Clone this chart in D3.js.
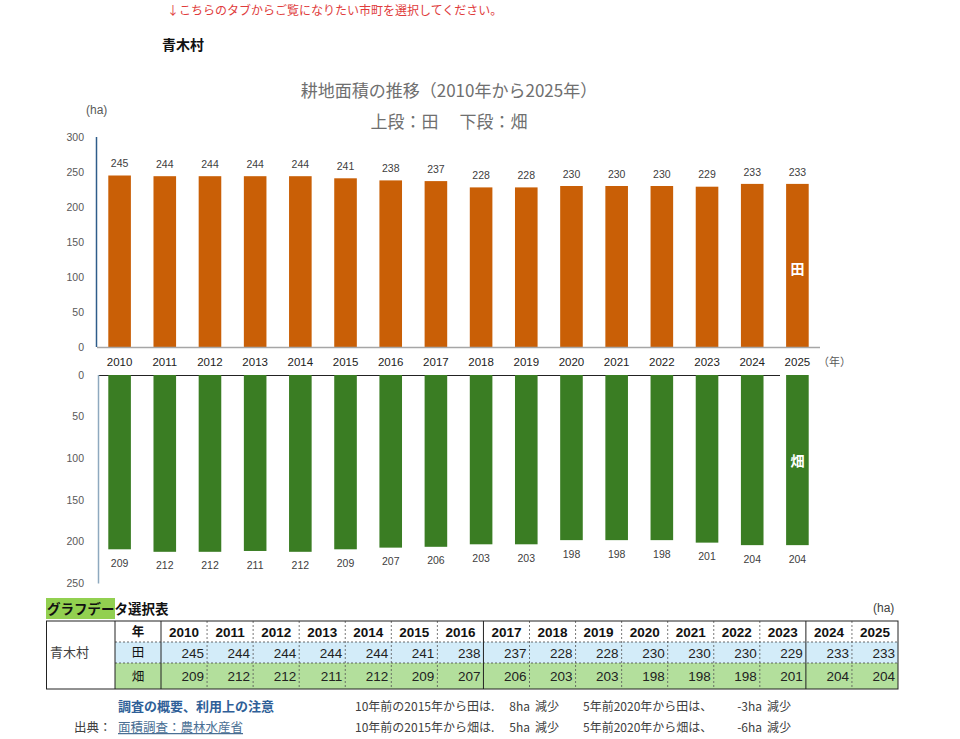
<!DOCTYPE html>
<html>
<head>
<meta charset="utf-8">
<script src="https://cdn.jsdelivr.net/npm/d3@7"></script>
<style>
  body { margin: 0; background: #fff; }
  svg { display: block; font-family: "Liberation Sans", "Noto Sans CJK JP", sans-serif; }
  .jp { font-family: "Noto Sans CJK JP", sans-serif; }
</style>
</head>
<body>
<div id="chart"></div>
<script>
const years = ["2010","2011","2012","2013","2014","2015","2016","2017","2018","2019","2020","2021","2022","2023","2024","2025"];
const paddy = [245,244,244,244,244,241,238,237,228,228,230,230,230,229,233,233]; // 田
const field = [209,212,212,211,212,209,207,206,203,203,198,198,198,201,204,204]; // 畑
const topTicks = [0,50,100,150,200,250,300];
const bottomTicks = [0,50,100,150,200,250];
const village = "青木村";

const W = 960, H = 739;
const svg = d3.select("#chart").append("svg").attr("width", W).attr("height", H);

// header texts
svg.append("text").attr("class", "jp").attr("x", 167).attr("y", 15)
  .style("font-size", "12px").style("fill", "#e03c3c")
  .text("↓こちらのタブからご覧になりたい市町を選択してください。");
svg.append("text").attr("class", "jp").attr("x", 162).attr("y", 50)
  .style("font-size", "14px").style("font-weight", "bold").style("fill", "#111")
  .text(village);

// title
svg.append("text").attr("class", "jp").attr("x", 449).attr("y", 97)
  .attr("text-anchor", "middle").style("font-size", "17px").style("fill", "#6f6f6f")
  .text("耕地面積の推移（2010年から2025年）");
svg.append("text").attr("class", "jp").attr("x", 449).attr("y", 128)
  .attr("text-anchor", "middle").style("font-size", "17px").style("fill", "#6f6f6f")
  .text("上段：田　 下段：畑");
svg.append("text").attr("x", 86).attr("y", 114)
  .style("font-size", "12px").style("fill", "#595959").text("(ha)");

var x = d3.scaleBand().domain(years).range([97, 820]).paddingInner(0.5).paddingOuter(0.25);

// ---- upper chart (田)
var yTop = d3.scaleLinear().domain([0, 300]).range([347, 137]);

svg.append("g").selectAll("text").data(topTicks).enter().append("text")
  .attr("x", 84).attr("y", d => yTop(d)).attr("dy", "0.35em")
  .attr("text-anchor", "end").style("font-size", "10.5px").style("fill", "#595959")
  .text(d => d);

svg.append("g").selectAll("rect").data(paddy).enter().append("rect")
  .attr("x", (d, i) => x(years[i])).attr("width", x.bandwidth())
  .attr("y", d => yTop(d)).attr("height", d => yTop(0) - yTop(d))
  .style("fill", "#c95f06");

svg.append("g").selectAll("text").data(paddy).enter().append("text")
  .attr("x", (d, i) => x(years[i]) + x.bandwidth() / 2)
  .attr("y", d => yTop(d) - 12).attr("dy", "0.35em")
  .attr("text-anchor", "middle").style("font-size", "10.5px").style("fill", "#404040")
  .text(d => d);

svg.append("line").attr("x1", 97).attr("x2", 820).attr("y1", 347.5).attr("y2", 347.5)
  .style("stroke", "#a6a6a6").style("stroke-width", 1.5);
svg.append("line").attr("x1", 96.5).attr("x2", 96.5).attr("y1", yTop(300)).attr("y2", yTop(0))
  .style("stroke", "#2e5c8a").style("stroke-width", 1.5);

svg.append("text").attr("class", "jp")
  .attr("x", x(years[15]) + x.bandwidth() / 2).attr("y", 269).attr("dy", "0.35em")
  .attr("text-anchor", "middle").style("font-size", "14px").style("font-weight", "bold")
  .style("fill", "#fff").text("田");

// year labels
svg.append("g").selectAll("text").data(years).enter().append("text")
  .attr("x", d => x(d) + x.bandwidth() / 2).attr("y", 362).attr("dy", "0.35em")
  .attr("text-anchor", "middle").style("font-size", "11.5px").style("fill", "#222")
  .text(d => d);
svg.append("text").attr("class", "jp").attr("x", 818).attr("y", 366)
  .style("font-size", "11px").style("fill", "#595959").text("（年）");

// ---- lower chart (畑)
var yBot = d3.scaleLinear().domain([0, 250]).range([375, 583.5]);

svg.append("g").selectAll("text").data(bottomTicks).enter().append("text")
  .attr("x", 84).attr("y", d => yBot(d)).attr("dy", "0.35em")
  .attr("text-anchor", "end").style("font-size", "10.5px").style("fill", "#595959")
  .text(d => d);

svg.append("line").attr("x1", 98).attr("x2", 780).attr("y1", 375.5).attr("y2", 375.5)
  .style("stroke", "#222").style("stroke-width", 1);

svg.append("g").selectAll("rect").data(field).enter().append("rect")
  .attr("x", (d, i) => x(years[i])).attr("width", x.bandwidth())
  .attr("y", yBot(0)).attr("height", d => yBot(d) - yBot(0))
  .style("fill", "#3a7d23");

svg.append("g").selectAll("text").data(field).enter().append("text")
  .attr("x", (d, i) => x(years[i]) + x.bandwidth() / 2)
  .attr("y", d => yBot(d) + 14).attr("dy", "0.35em")
  .attr("text-anchor", "middle").style("font-size", "10.5px").style("fill", "#404040")
  .text(d => d);

svg.append("line").attr("x1", 98.5).attr("x2", 98.5).attr("y1", yBot(0)).attr("y2", yBot(250))
  .style("stroke", "#8ea9bf").style("stroke-width", 1.5);

svg.append("text").attr("class", "jp")
  .attr("x", x(years[15]) + x.bandwidth() / 2).attr("y", 461).attr("dy", "0.35em")
  .attr("text-anchor", "middle").style("font-size", "14px").style("font-weight", "bold")
  .style("fill", "#fff").text("畑");

// ---- data table
svg.append("rect").attr("x", 46).attr("y", 598).attr("width", 69).attr("height", 21)
  .style("fill", "#92d050");
svg.append("text").attr("class", "jp").attr("x", 47).attr("y", 614)
  .style("font-size", "13.5px").style("font-weight", "bold").style("fill", "#111")
  .text("グラフデータ選択表");
svg.append("text").attr("x", 873).attr("y", 612)
  .style("font-size", "12px").style("fill", "#404040").text("(ha)");

var tx0 = 161, tx1 = 898;
var col = d3.scaleBand().domain(years).range([tx0, tx1]);
var rows = [621, 642, 663, 689];

svg.append("rect").attr("x", 115).attr("y", rows[1]).attr("width", tx1 - 115).attr("height", rows[2] - rows[1])
  .style("fill", "#d3ecf9");
svg.append("rect").attr("x", 115).attr("y", rows[2]).attr("width", tx1 - 115).attr("height", rows[3] - rows[2])
  .style("fill", "#b3df9c");

// dashed row lines
[rows[1], rows[2]].forEach(function(yy) {
  svg.append("line").attr("x1", 115).attr("x2", tx1).attr("y1", yy).attr("y2", yy)
    .style("stroke", "#444").style("stroke-width", 0.8).style("stroke-dasharray", "2,2");
});
// column lines
years.forEach(function(yr, i) {
  if (i == 0) return;
  var solid = (yr == "2017" || yr == "2024");
  svg.append("line").attr("x1", col(yr)).attr("x2", col(yr)).attr("y1", rows[0]).attr("y2", rows[3])
    .style("stroke", solid ? "#222" : "#555").style("stroke-width", solid ? 1 : 0.8)
    .style("stroke-dasharray", solid ? null : "2,2");
});
svg.append("line").attr("x1", tx0).attr("x2", tx0).attr("y1", rows[0]).attr("y2", rows[3])
  .style("stroke", "#222").style("stroke-width", 1);
svg.append("line").attr("x1", 115).attr("x2", 115).attr("y1", rows[0]).attr("y2", rows[3])
  .style("stroke", "#222").style("stroke-width", 1);
svg.append("rect").attr("x", 46.5).attr("y", rows[0]).attr("width", tx1 - 46.5).attr("height", rows[3] - rows[0])
  .style("fill", "none").style("stroke", "#222").style("stroke-width", 1);

svg.append("text").attr("class", "jp").attr("x", 50).attr("y", 657)
  .style("font-size", "13px").style("fill", "#404040").text(village);
[["年", 0], ["田", 1], ["畑", 2]].forEach(function(r) {
  svg.append("text").attr("class", "jp").attr("x", 138).attr("y", (rows[r[1]] + rows[r[1] + 1]) / 2)
    .attr("dy", "0.38em").attr("text-anchor", "middle")
    .style("font-size", "12.5px").style("font-weight", r[1] == 0 ? "bold" : "normal").style("fill", "#111")
    .text(r[0]);
});

svg.append("g").selectAll("text").data(years).enter().append("text")
  .attr("x", d => col(d) + col.bandwidth() / 2).attr("y", (rows[0] + rows[1]) / 2).attr("dy", "0.38em")
  .attr("text-anchor", "middle").style("font-size", "13.5px").style("font-weight", "bold").style("fill", "#111")
  .text(d => d);
svg.append("g").selectAll("text").data(paddy).enter().append("text")
  .attr("x", (d, i) => col(years[i]) + col.bandwidth() - 3).attr("y", (rows[1] + rows[2]) / 2).attr("dy", "0.38em")
  .attr("text-anchor", "end").style("font-size", "13.5px").style("fill", "#222")
  .text(d => d);
svg.append("g").selectAll("text").data(field).enter().append("text")
  .attr("x", (d, i) => col(years[i]) + col.bandwidth() - 3).attr("y", (rows[2] + rows[3]) / 2).attr("dy", "0.38em")
  .attr("text-anchor", "end").style("font-size", "13.5px").style("fill", "#222")
  .text(d => d);

// ---- notes
svg.append("text").attr("class", "jp").attr("x", 118).attr("y", 711)
  .style("font-size", "13px").style("font-weight", "bold").style("fill", "#2f5f98")
  .text("調査の概要、利用上の注意");
svg.append("text").attr("class", "jp").attr("x", 74).attr("y", 732)
  .style("font-size", "12.5px").style("fill", "#404040").text("出典：");
svg.append("text").attr("class", "jp").attr("x", 118).attr("y", 732)
  .style("font-size", "12.5px").style("fill", "#4a6f94").style("text-decoration", "underline")
  .text("面積調査：農林水産省");

var i2015 = years.indexOf("2015"), i2020 = years.indexOf("2020"), last = years.length - 1;
var notes = [
  ["田", paddy, 711],
  ["畑", field, 732]
];
notes.forEach(function(n) {
  var arr = n[1];
  var g = svg.append("g").attr("class", "jp").style("font-size", "12px").style("fill", "#404040");
  g.append("text").attr("x", 355).attr("y", n[2]).text("10年前の2015年から" + n[0] + "は.");
  g.append("text").attr("x", 530).attr("y", n[2]).attr("text-anchor", "end").text((arr[i2015] - arr[last]) + "ha");
  g.append("text").attr("x", 535).attr("y", n[2]).text("減少");
  g.append("text").attr("x", 583).attr("y", n[2]).text("5年前2020年から" + n[0] + "は、");
  g.append("text").attr("x", 762).attr("y", n[2]).attr("text-anchor", "end").text((arr[i2020] - arr[last]) + "ha");
  g.append("text").attr("x", 767).attr("y", n[2]).text("減少");
});
</script>
</body>
</html>
